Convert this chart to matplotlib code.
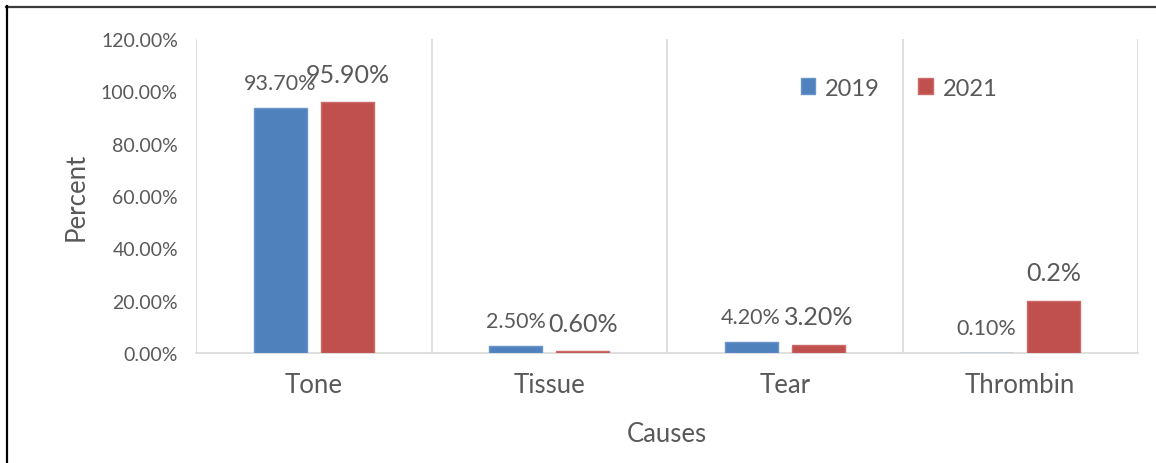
import matplotlib
matplotlib.use("Agg")
import matplotlib.pyplot as plt
from matplotlib.lines import Line2D
import numpy as np

plt.rcParams['font.family'] = ['Lato', 'DejaVu Sans']

categories = ["Tone", "Tissue", "Tear", "Thrombin"]
series_names = ["2019", "2021"]
values_2019 = [93.7, 2.5, 4.2, 0.1]
values_2021 = [95.9, 0.6, 3.2, 20.0]
labels_2019 = ["93.70%", "2.50%", "4.20%", "0.10%"]
labels_2021 = ["95.90%", "0.60%", "3.20%", "0.2%"]
yticks = [0, 20, 40, 60, 80, 100, 120]
ytick_labels = ["0.00%", "20.00%", "40.00%", "60.00%", "80.00%", "100.00%", "120.00%"]

blue = "#4f81bd"
red = "#c0504d"
text_col = "#595959"
grid_col = "#d9d9d9"

W, H = 1156, 464
fig = plt.figure(figsize=(W / 100, H / 100), dpi=100)
ax = fig.add_axes([196 / W, 1 - 354 / H, (1138 - 196) / W, (354 - 40) / H])

x = np.arange(len(categories))
bw = 0.225
off = 0.143
b1 = ax.bar(x - off, values_2019, bw, color=blue, edgecolor="#6a94c8", linewidth=1.0,
            label=series_names[0], zorder=3)
b2 = ax.bar(x + off, values_2021, bw, color=red, edgecolor="#cc6a68", linewidth=1.0,
            label=series_names[1], zorder=3)

for xi, v, lab in zip(x, values_2019, labels_2019):
    ax.annotate(lab, (xi - off, v), xytext=(0, 18), textcoords="offset points",
                ha="center", va="center", fontsize=15.5, color=text_col, zorder=5)
for xi, v, lab in zip(x, values_2021, labels_2021):
    ax.annotate(lab, (xi + off, v), xytext=(0, 20), textcoords="offset points",
                ha="center", va="center", fontsize=18, color=text_col, zorder=5)

ax.set_xlim(-0.5, len(categories) - 0.5)
ax.set_ylim(0, 120)
ax.set_yticks(yticks)
ax.set_yticklabels(ytick_labels)
ax.set_xticks(x)
ax.set_xticklabels(categories)
ax.tick_params(axis="y", length=0, pad=13, labelsize=14, labelcolor=text_col)
ax.tick_params(axis="x", length=0, pad=14, labelsize=18.5, labelcolor=text_col)

for xv in np.arange(-0.5, len(categories), 1.0):
    ax.axvline(xv, color=grid_col, lw=1.2, zorder=1)

for s in ["top", "right", "left"]:
    ax.spines[s].set_visible(False)
ax.spines["bottom"].set_color(grid_col)
ax.spines["bottom"].set_linewidth(1.2)
ax.spines["bottom"].set_zorder(2)

ax.set_xlabel("Causes", fontsize=18.5, color=text_col)
ax.set_ylabel("Percent", fontsize=18.5, color=text_col)
ax.xaxis.set_label_coords(0.5, (354 - 435) / 314)
ax.xaxis.label.set_va("center")
ax.yaxis.set_label_coords((76 - 196) / 942, 0.5)
ax.yaxis.label.set_va("center")

leg = fig.legend(handles=[b1, b2], loc="center", bbox_to_anchor=(899 / W, 1 - 89 / H),
                 ncol=2, frameon=False, fontsize=17, handlelength=0.63, handleheight=0.63,
                 handletextpad=0.42, columnspacing=1.6, labelcolor=text_col)

fig.add_artist(Line2D([6 / W, 1.0], [1 - 7.5 / H, 1 - 7.5 / H], color="#3a3a3a", lw=1.6,
                      transform=fig.transFigure))
fig.add_artist(Line2D([7 / W, 7 / W], [0, 1 - 7 / H], color="#000000", lw=1.6,
                      transform=fig.transFigure))

fig.savefig("out.png", dpi=100, facecolor="white")
